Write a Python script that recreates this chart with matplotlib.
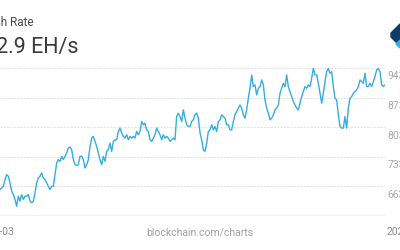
import matplotlib
matplotlib.use('Agg')
import matplotlib.pyplot as plt
from matplotlib.patches import Polygon
import numpy as np

plt.rcParams['font.family'] = ['Roboto', 'DejaVu Sans']

# hash rate (EH/s), evenly spaced in time
hash_rate = [
    655.5, 659.4, 663.3, 679.0, 690.8, 686.9, 671.2, 651.5, 643.7, 631.9,
    616.2, 639.8, 628.0, 643.7, 631.9, 639.8, 639.8, 643.7, 628.0, 624.1,
    628.0, 647.6, 671.2, 683.0, 686.9, 694.8, 683.0, 679.0, 671.2, 663.3,
    655.5, 663.3, 663.3, 690.8, 718.3, 726.2, 722.3, 734.1, 726.2, 734.1,
    741.9, 753.7, 756.1, 749.8, 726.2, 714.4, 712.1, 714.4, 734.1, 734.1,
    726.2, 706.5, 714.4, 726.2, 757.6, 777.3, 781.2, 769.4, 757.6, 741.9,
    726.2, 714.4, 734.1, 722.3, 745.8, 749.8, 765.5, 745.8, 769.4, 773.3,
    773.3, 793.0, 800.8, 789.1, 781.2, 777.3, 785.2, 773.3, 781.2, 777.3,
    781.2, 777.3, 793.0, 785.2, 793.0, 816.5, 808.7, 812.6, 796.9, 793.0,
    773.3, 769.4, 777.3, 785.2, 800.8, 793.0, 785.2, 773.3, 785.2, 777.3,
    781.2, 777.3, 769.4, 773.3, 777.3, 773.3, 828.3, 836.2, 828.3, 816.5,
    844.0, 824.4, 808.7, 804.8, 804.8, 816.5, 820.5, 832.3, 836.2, 824.4,
    790.0, 773.3, 749.7, 745.8, 765.4, 792.9, 796.8, 808.6, 796.8, 804.7,
    792.9, 816.5, 820.4, 832.2, 828.3, 824.3, 808.6, 808.6, 796.8, 796.8,
    816.5, 832.2, 840.0, 847.9, 855.7, 847.9, 832.2, 824.3, 844.0, 871.5,
    895.0, 926.5, 899.0, 902.9, 879.3, 895.0, 899.0, 914.7, 902.9, 867.5,
    847.9, 836.1, 820.4, 824.3, 832.2, 844.0, 847.9, 855.7, 883.3, 895.0,
    906.8, 899.0, 926.5, 899.0, 887.2, 875.4, 863.6, 855.7, 847.9, 844.0,
    859.7, 875.4, 887.2, 899.0, 895.0, 902.9, 899.0, 918.6, 942.2, 926.5,
    926.5, 906.8, 883.3, 859.7, 883.3, 910.8, 934.3, 942.2, 930.4, 934.3,
    899.0, 871.5, 867.5, 832.2, 804.7, 800.8, 800.8, 828.3, 800.8, 847.9,
    871.5, 875.4, 883.3, 887.2, 891.1, 899.0, 914.7, 910.8, 906.8, 930.4,
    899.0, 899.0, 906.8, 899.0, 910.8, 922.6, 938.3, 942.2, 934.3, 902.9,
    899.0, 902.9,
]
y_ticks = [663, 733, 803, 873, 943]
y_base = 593
title = 'Hash Rate'
current = '902.9 EH/s'
x_left_label = '2025-03'
x_right_label = '2025-09'
source = 'blockchain.com/charts'

W, H = 400, 250
fig = plt.figure(figsize=(4, 2.5), dpi=100)
ax = fig.add_axes([0, 1 - 216 / H, 385 / W, (216 - 60) / H])

x = np.arange(len(hash_rate))
ax.plot(x, hash_rate, color='#35ade3', lw=1.0, zorder=3)
ax.set_xlim(0, len(hash_rate) - 1)
ax.set_ylim(y_base, 943 + 8 * 70 / 29.7)

for t in y_ticks:
    ax.axhline(t, color='#e4e4e4', lw=0.8, ls=(0, (2, 1)), zorder=1)
    ax.annotate(str(t), xy=(1, t), xycoords=('axes fraction', 'data'),
                xytext=(2, -6), textcoords='offset points',
                ha='left', va='center', fontsize=7.5, color='#a8a8a8',
                annotation_clip=False)
ax.axhline(y_base, color='#ececec', lw=1.2, zorder=1)
ax.axis('off')

fig.text(33.5 / W, 1 - 23 / H, title, ha='right', va='center',
         fontsize=8.5, color='#4a4a4a')
fig.text(78.5 / W, 1 - 47 / H, current, ha='right', va='center',
         fontsize=15.5, color='#3a3a3a')

fig.text(14 / W, 1 - 232 / H, x_left_label, ha='right', va='center',
         fontsize=7.5, color='#8c8c8c')
fig.text(387 / W, 1 - 232 / H, x_right_label, ha='left', va='center',
         fontsize=7.5, color='#8c8c8c')
fig.text(200 / W, 1 - 232 / H, source, ha='center', va='center',
         fontsize=7.5, color='#a0a0a0')

# logo, cut off at the right edge
logo = [(400, 24), (391, 33), (391, 37), (400, 46)]
fig.add_artist(Polygon([(px / W, 1 - py / H) for px, py in logo],
                       closed=True, transform=fig.transFigure,
                       color='#123b6a', zorder=5))
tip = [(396, 44), (400, 40), (400, 48)]
fig.add_artist(Polygon([(px / W, 1 - py / H) for px, py in tip],
                       closed=True, transform=fig.transFigure,
                       color='#2fb3e6', zorder=5))

fig.savefig('out.png', dpi=100)
